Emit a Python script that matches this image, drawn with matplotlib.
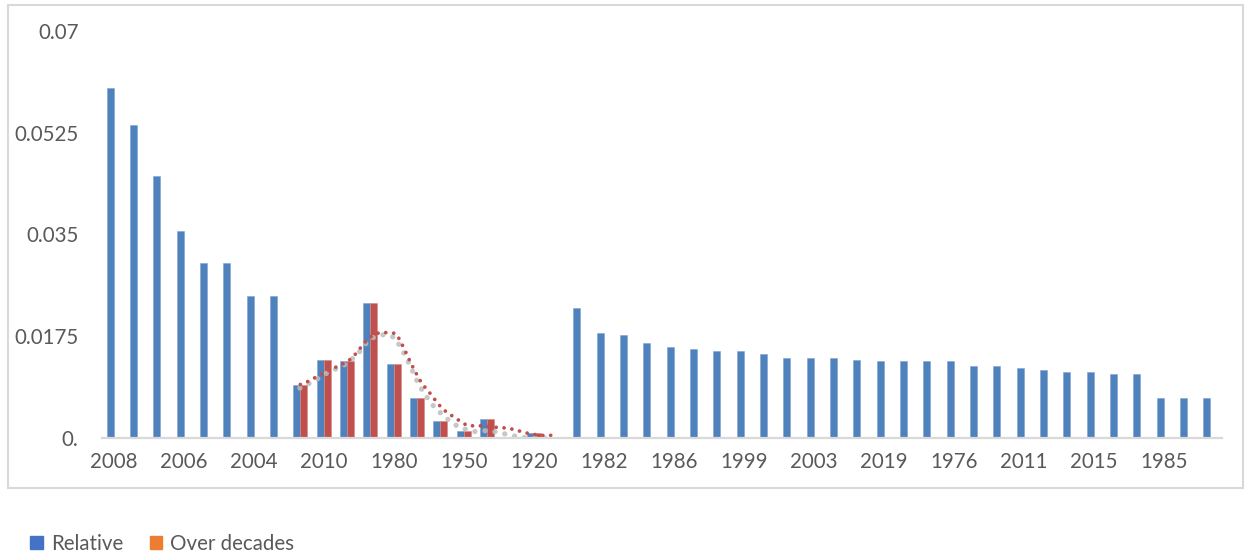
import numpy as np
import matplotlib.pyplot as plt
from matplotlib.patches import Rectangle, Patch

plt.rcParams['font.family'] = ['Lato', 'DejaVu Sans']

# every third category carries a label
tick_labels = ['2008', '2006', '2004', '2010', '1980', '1950', '1920', '1982',
               '1986', '1999', '2003', '2019', '1976', '2011', '2015', '1985']

relative = [0.0602, 0.0538, 0.0451, 0.0356, 0.0301, 0.0301, 0.0244, 0.0244,
            0.0092, 0.0135, 0.0132, 0.0233, 0.0127, 0.0068, 0.0029, 0.0012,
            0.0032, 0.0, 0.0009, 0.0002,
            0.0223, 0.0180, 0.0177, 0.0163, 0.0156, 0.0153, 0.0149, 0.0149,
            0.0144, 0.0138, 0.0138, 0.0138, 0.0135, 0.0132, 0.0132, 0.0132,
            0.0132, 0.0124, 0.0124, 0.0120, 0.0117, 0.0114, 0.0114, 0.0110,
            0.0110, 0.0068, 0.0068, 0.0068]

over_decades = [0, 0, 0, 0, 0, 0, 0, 0,
                0.0092, 0.0135, 0.0132, 0.0233, 0.0127, 0.0068, 0.0029, 0.0012,
                0.0032, 0.0, 0.0009, 0.0002,
                0, 0, 0, 0, 0, 0, 0, 0, 0, 0, 0, 0, 0, 0, 0, 0,
                0, 0, 0, 0, 0, 0, 0, 0, 0, 0, 0, 0]

# trend lines (position in category units, value)
red_trend_x = [9.0, 9.43, 9.72, 10.03, 10.35, 10.65, 10.95, 11.24, 11.45, 11.66,
               11.88, 12.12, 12.44, 12.76, 13.09, 13.26, 13.42, 13.56, 13.71,
               13.86, 14.02, 14.19, 14.41, 14.62, 14.84, 15.05, 15.31, 15.59,
               15.88, 16.17, 16.51, 16.84, 17.20, 17.52, 17.87, 18.23, 18.55,
               18.88, 19.21, 19.55, 19.88]
red_trend_y = [0.0092, 0.0099, 0.0106, 0.0113, 0.0119, 0.0124, 0.0130, 0.0138,
               0.0149, 0.0159, 0.0170, 0.0177, 0.0182, 0.0181, 0.0180, 0.0169,
               0.0156, 0.0144, 0.0131, 0.0119, 0.0107, 0.0095, 0.0084, 0.0074,
               0.0062, 0.0052, 0.0043, 0.0036, 0.0028, 0.0021, 0.0021, 0.0021,
               0.0019, 0.0018, 0.0017, 0.0014, 0.0010, 0.0007, 0.0005, 0.0004,
               0.0005]

grey_trend_x = [8.98, 9.59, 10.19, 10.83, 11.41, 11.98, 12.58, 13.05, 13.41,
                13.71, 13.98, 14.31, 14.73, 15.22, 15.81, 16.44, 17.09, 17.77,
                18.44, 19.13, 19.84]
grey_trend_y = [0.0086, 0.0098, 0.0113, 0.0124, 0.0142, 0.0171, 0.0178, 0.0173,
                0.0148, 0.0124, 0.0100, 0.0076, 0.0054, 0.0035, 0.0018, 0.0011,
                0.0013, 0.0007, 0.0001, 0.0, 0.0]

blue = '#4F81BD'
red = '#C0504D'
text_col = '#595959'

fig = plt.figure(figsize=(12.46, 5.55), dpi=100)
ax = fig.add_axes([102 / 1246, 1 - 438 / 555, 1120 / 1246, 407 / 555])

cats = np.arange(1, len(relative) + 1)
w = 0.3
ax.bar(cats - w / 2, relative, width=w, color=blue, edgecolor='#7FA3D1', linewidth=0.4, zorder=2)
ax.bar(cats + w / 2, over_decades, width=w, color=red, edgecolor='#D68A88', linewidth=0.4, zorder=2)

# dotted trend lines
ax.plot(grey_trend_x, grey_trend_y, color='#BDBDBD', lw=3.8, alpha=0.85,
        linestyle=(0, (0.01, 1.9)), dash_capstyle='round', zorder=3)
ax.plot(red_trend_x, red_trend_y, color=red, lw=2.7,
        linestyle=(0, (0.01, 2.1)), dash_capstyle='round', zorder=4)

ax.set_xlim(0.5, len(relative) + 0.5)
ax.set_ylim(0, 0.07)
ax.set_yticks([0, 0.0175, 0.035, 0.0525, 0.07])
ax.set_yticklabels(['0.', '0.0175', '0.035', '0.0525', '0.07'])
ax.set_xticks(cats[::3])
ax.set_xticklabels(tick_labels)
ax.tick_params(axis='both', length=0, labelsize=14.8, labelcolor=text_col)
ax.tick_params(axis='y', pad=17)
ax.tick_params(axis='x', pad=10)

for s in ['top', 'right', 'left']:
    ax.spines[s].set_visible(False)
ax.spines['bottom'].set_color('#D9D9D9')
ax.spines['bottom'].set_linewidth(1.6)
ax.spines['bottom'].set_zorder(5)

# light chart border
fig.patches.append(Rectangle((8 / 1246, 1 - 488 / 555), 1235 / 1246, 483 / 555,
                             transform=fig.transFigure, fill=False,
                             edgecolor='#D9D9D9', linewidth=1.5))

handles = [Patch(color='#4472C4', label='Relative'),
           Patch(color='#ED7D31', label='Over decades')]
fig.legend(handles=handles, loc='center left', bbox_to_anchor=(22 / 1246, 1 - 544 / 555),
           ncol=2, frameon=False, fontsize=14.8, handlelength=0.6, handleheight=0.6,
           handletextpad=0.4, columnspacing=1.3, labelcolor=text_col, borderaxespad=0)

fig.savefig('out.png', dpi=100)
